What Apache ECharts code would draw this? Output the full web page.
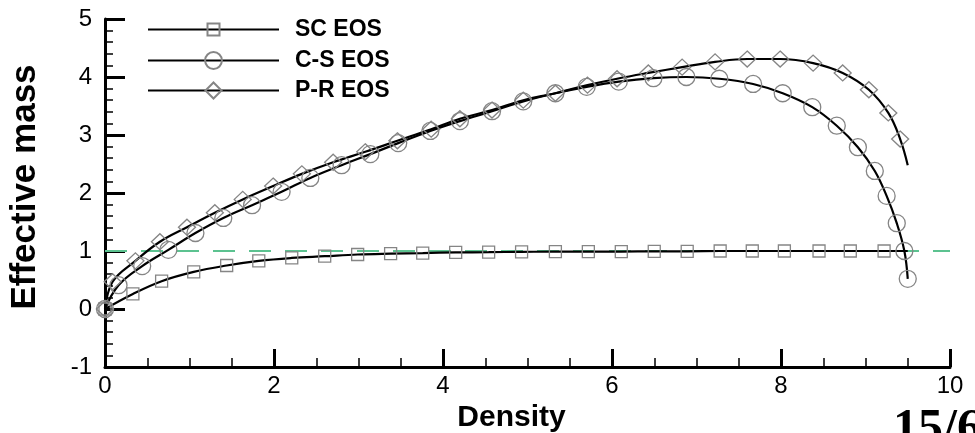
<!DOCTYPE html>
<html>
<head>
<meta charset="utf-8">
<script src="https://cdn.jsdelivr.net/npm/echarts@6/dist/echarts.min.js"></script>
<style>
html,body{margin:0;padding:0;background:#fff;}
#chart{width:975px;height:433px;}
</style>
</head>
<body>
<div id="chart"></div>
<script>
// Tick labels
const xTicks = [0, 2, 4, 6, 8, 10];
const yTicks = [-1, 0, 1, 2, 3, 4, 5];
const seriesNames = ['SC EOS', 'C-S EOS', 'P-R EOS'];

// SC EOS  [density, effective mass]
const scX = [0, 0.33, 0.67, 1.05, 1.44, 1.82, 2.21, 2.60, 2.99, 3.38, 3.76, 4.15, 4.54, 4.93, 5.33, 5.72, 6.11, 6.50, 6.89, 7.28, 7.66, 8.04, 8.45, 8.82, 9.22, 9.50];
const scY = [0, 0.26, 0.48, 0.64, 0.75, 0.83, 0.88, 0.91, 0.94, 0.955, 0.965, 0.975, 0.98, 0.985, 0.99, 0.99, 0.99, 0.995, 0.995, 1.0, 1.0, 1.0, 1.0, 1.0, 1.0, 1.0];
const scMarked = [1,1,1,1,1,1,1,1,1,1,1,1,1,1,1,1,1,1,1,1,1,1,1,1,1,0];

// C-S EOS
const csX = [0, 0.16, 0.44, 0.75, 1.07, 1.40, 1.74, 2.09, 2.43, 2.80, 3.14, 3.47, 3.85, 4.20, 4.58, 4.95, 5.33, 5.70, 6.08, 6.49, 6.88, 7.27, 7.67, 8.02, 8.37, 8.66, 8.91, 9.11, 9.25, 9.37, 9.46, 9.50];
const csY = [0, 0.41, 0.74, 1.02, 1.31, 1.57, 1.79, 2.02, 2.26, 2.48, 2.67, 2.86, 3.07, 3.24, 3.41, 3.58, 3.72, 3.83, 3.92, 3.98, 4.00, 3.97, 3.88, 3.72, 3.48, 3.16, 2.79, 2.38, 1.95, 1.48, 1.00, 0.52];

// P-R EOS
const prX = [0, 0.09, 0.36, 0.65, 0.97, 1.30, 1.63, 1.99, 2.33, 2.70, 3.08, 3.46, 3.86, 4.20, 4.58, 4.95, 5.33, 5.71, 6.06, 6.43, 6.83, 7.22, 7.60, 7.99, 8.38, 8.73, 9.04, 9.27, 9.41, 9.50];
const prY = [0, 0.47, 0.83, 1.16, 1.41, 1.66, 1.89, 2.12, 2.33, 2.53, 2.71, 2.90, 3.10, 3.28, 3.43, 3.60, 3.72, 3.86, 3.97, 4.07, 4.17, 4.26, 4.31, 4.31, 4.24, 4.07, 3.78, 3.38, 2.93, 2.48];
const prMarked = [1,1,1,1,1,1,1,1,1,1,1,1,1,1,1,1,1,1,1,1,1,1,1,1,1,1,1,1,1,0];

// Reference line
const refX = [0, 10];
const refY = [1, 1];

function build(xs, ys, marked) {
  return xs.map((x, i) => {
    const item = { value: [x, ys[i]] };
    if (marked && !marked[i]) item.symbol = 'none';
    return item;
  });
}

const markerStyle = { color: 'rgba(0,0,0,0)', borderColor: '#858585', borderWidth: 1.3 };
const curveLine = { color: '#000', width: 2.2 };
const FONT = '"Liberation Sans", Arial, sans-serif';
const legendText = { fontFamily: FONT, fontWeight: 'bold', fontSize: 23, color: '#000', padding: [0, 0, 0, 11] };

const chart = echarts.init(document.getElementById('chart'), null, { renderer: 'canvas' });
chart.setOption({
  animation: false,
  backgroundColor: '#fff',
  grid: { left: 105, right: 25, top: 19, bottom: 66, containLabel: false, outerBoundsMode: 'none' },
  legend: [
    { data: [seriesNames[0]], left: 142, top: 13, orient: 'vertical', itemWidth: 131, itemHeight: 15, textStyle: legendText, selectedMode: false },
    { data: [seriesNames[1]], left: 142, top: 44, orient: 'vertical', itemWidth: 131, itemHeight: 21, textStyle: legendText, selectedMode: false },
    { data: [seriesNames[2]], left: 142, top: 74, orient: 'vertical', itemWidth: 131, itemHeight: 20, textStyle: legendText, selectedMode: false }
  ],
  xAxis: {
    type: 'value', min: xTicks[0], max: xTicks[xTicks.length - 1], interval: 2,
    name: 'Density', nameLocation: 'middle', nameGap: 26,
    nameTextStyle: { fontFamily: FONT, fontWeight: 'bold', fontSize: 30, color: '#000', padding: [0, 32, 0, 0] },
    axisLine: { onZero: false, lineStyle: { color: '#000', width: 3 } },
    axisTick: { inside: true, length: 18, lineStyle: { color: '#000', width: 3 } },
    minorTick: { show: true, splitNumber: 4, length: 9, lineStyle: { color: '#000', width: 1.5 } },
    splitLine: { show: false },
    axisLabel: { fontFamily: FONT, fontSize: 24, color: '#000', margin: 7 }
  },
  yAxis: {
    type: 'value', min: yTicks[0], max: yTicks[yTicks.length - 1], interval: 1,
    name: 'Effective mass', nameLocation: 'middle', nameGap: 62, nameRotate: 90,
    nameTextStyle: { fontFamily: FONT, fontWeight: 'bold', fontSize: 35, color: '#000', padding: [0, 0, 0, 12] },
    axisLine: { onZero: false, lineStyle: { color: '#000', width: 3 } },
    axisTick: { inside: true, length: 20, lineStyle: { color: '#000', width: 3 } },
    minorTick: { show: true, splitNumber: 5, length: 8, lineStyle: { color: '#000', width: 1.5 } },
    splitLine: { show: false },
    axisLabel: { fontFamily: FONT, fontSize: 24, color: '#000', margin: 13 }
  },
  graphic: [
    { type: 'text', left: 893, top: 405, style: { text: '15/6', fontFamily: '"Liberation Serif", "Times New Roman", serif', fontWeight: 'bold', fontSize: 50, fill: '#000' } }
  ],
  series: [
    { name: 'ref', type: 'line', data: refX.map((x, i) => [x, refY[i]]), symbol: 'none', silent: true,
      lineStyle: { color: '#5cc290', width: 2, type: [22, 14] }, z: 1 },
    { name: seriesNames[0], type: 'line', data: build(scX, scY, scMarked), smooth: 0.4,
      symbol: 'rect', symbolSize: 12, showAllSymbol: true, itemStyle: markerStyle, lineStyle: curveLine, z: 3 },
    { name: seriesNames[1], type: 'line', data: build(csX, csY, null), smooth: 0.4,
      symbol: 'circle', symbolSize: 17, showAllSymbol: true, itemStyle: markerStyle, lineStyle: curveLine, z: 3 },
    { name: seriesNames[2], type: 'line', data: build(prX, prY, prMarked), smooth: 0.4,
      symbol: 'diamond', symbolSize: [17, 16], showAllSymbol: true, itemStyle: markerStyle, lineStyle: curveLine, z: 3 }
  ]
});
</script>
</body>
</html>
